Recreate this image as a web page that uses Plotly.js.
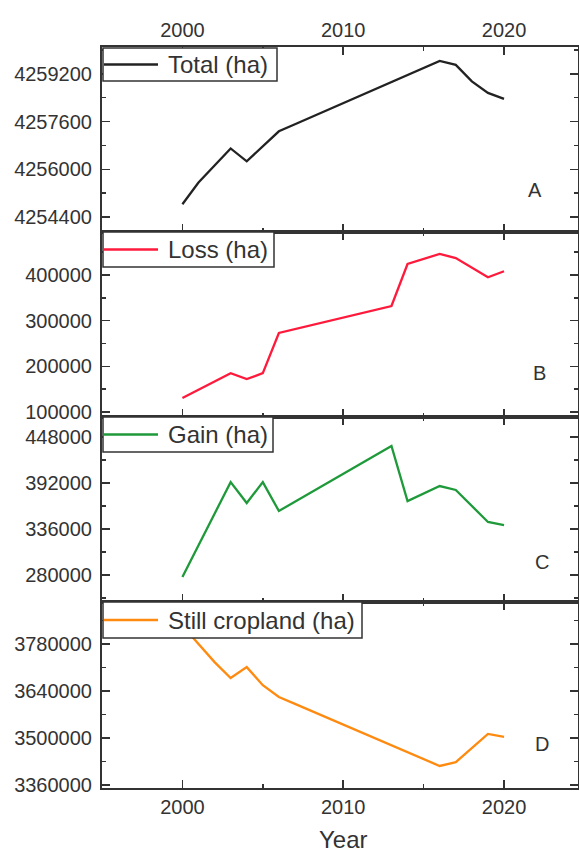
<!DOCTYPE html>
<html>
<head>
<meta charset="utf-8">
<script src="https://cdn.plot.ly/plotly-3.0.1.min.js"></script>
<style>html,body{margin:0;padding:0;background:#fff;}</style>
</head>
<body>
<div id="chart" style="width:579px;height:853px;"></div>
<script>
const years = [2000,2001,2002,2003,2004,2005,2006,2007,2008,2009,2010,2011,2012,2013,2014,2015,2016,2017,2018,2019,2020];
const totalHa = [4254830,4255560,4256130,4256700,4256270,4256770,4257275,4257510,4257745,4257980,4258215,4258450,4258685,4258920,4259155,4259390,4259636,4259500,4258950,4258560,4258360];
const lossHa = [130600,149000,167000,185000,172000,185000,273000,281400,289900,298300,306700,315100,323600,332000,424000,435000,446000,437000,416000,395000,408000];
const gainHa = [277600,316000,355000,393000,367600,393000,357900,369200,380500,391800,403100,414400,425700,437000,370000,379000,388300,383500,364000,344500,340800];
const stillHa = [3834000,3780000,3726000,3678700,3711000,3657000,3622000,3601500,3580900,3560400,3539800,3519300,3498800,3478200,3457700,3437100,3416600,3428000,3470000,3512000,3503000];
const seriesNames = ["Total (ha)","Loss (ha)","Gain (ha)","Still cropland (ha)"];
const panelLetters = ["A","B","C","D"];
const xTitle = "Year";

const W = 579, H = 853;
const L = 102, R = 578, T = 47, B = 788;
const px = x => (x - L) / (R - L);
const py = y => (B - y) / (B - T);

const colors = ["#222222","#ff1a3c","#1f9a3a","#ff8a10"];
const ink = "#333333";
const fnt = "Liberation Sans, Arial, sans-serif";

const traces = [
  {x: years, y: totalHa, xaxis:"x4", yaxis:"y4"},
  {x: years, y: lossHa,  xaxis:"x3", yaxis:"y3"},
  {x: years, y: gainHa,  xaxis:"x2", yaxis:"y2"},
  {x: years, y: stillHa, xaxis:"x",  yaxis:"y"}
].map((t,i)=>Object.assign(t,{type:"scatter",mode:"lines",name:seriesNames[i],line:{color:colors[i],width:2.3},showlegend:false}));

const xBase = {
  range:[1995,2024.6], tick0:2000, dtick:10, ticks:"inside", ticklen:8, tickwidth:1.5, tickcolor:ink,
  minor:{dtick:5, tick0:1995, ticks:"inside", ticklen:4, tickwidth:1.5, tickcolor:ink},
  showline:true, linecolor:ink, linewidth:2, mirror:"ticks", showgrid:false, zeroline:false,
  tickfont:{family:fnt,size:20,color:ink}
};
const yBase = {
  ticks:"inside", ticklen:8, tickwidth:1.5, tickcolor:ink, tickformat:"d",
  showline:true, linecolor:ink, linewidth:2, mirror:"ticks", showgrid:false, zeroline:false,
  tickfont:{family:fnt,size:20,color:ink}, ticklabelstandoff:4
};
const dom = [[py(788),py(602)],[py(602),py(417)],[py(417),py(232)],[py(232),py(47)]];

const layout = {
  width:W, height:H, margin:{l:L, r:W-R, t:T, b:H-B},
  paper_bgcolor:"#fff", plot_bgcolor:"#fff", showlegend:false,
  xaxis: Object.assign({}, xBase, {anchor:"y"}),
  xaxis2: Object.assign({}, xBase, {anchor:"y2", showticklabels:false}),
  xaxis3: Object.assign({}, xBase, {anchor:"y3", showticklabels:false}),
  xaxis4: Object.assign({}, xBase, {anchor:"y4", side:"top"}),
  yaxis: Object.assign({}, yBase, {domain:dom[0], range:[3351000,3905000], tick0:3360000, dtick:140000, minor:{dtick:70000, tick0:3360000, ticks:"inside", ticklen:4, tickwidth:1.5, tickcolor:ink}}),
  yaxis2: Object.assign({}, yBase, {domain:dom[1], range:[247100,472300], tick0:280000, dtick:56000, minor:{dtick:28000, tick0:280000, ticks:"inside", ticklen:4, tickwidth:1.5, tickcolor:ink}}),
  yaxis3: Object.assign({}, yBase, {domain:dom[2], range:[89000,494000], tick0:100000, dtick:100000, minor:{dtick:50000, tick0:100000, ticks:"inside", ticklen:4, tickwidth:1.5, tickcolor:ink}}),
  yaxis4: Object.assign({}, yBase, {domain:dom[3], range:[4253900,4260100], tick0:4254400, dtick:1600, minor:{dtick:800, tick0:4254400, ticks:"inside", ticklen:4, tickwidth:1.5, tickcolor:ink}}),
  shapes:[], annotations:[]
};

// x axis title
layout.annotations.push({xref:"paper", yref:"paper", x:px(343), y:py(839), xanchor:"center", yanchor:"middle",
  text:xTitle, showarrow:false, font:{family:fnt, size:24, color:ink}});

// legend boxes (top-left of each panel): [top, bottom, right] in px
const boxes = [[48,81,277],[232,267,274],[417,452,273],[602,638,362]];
boxes.forEach((b,i)=>{
  layout.shapes.push({type:"rect", xref:"paper", yref:"paper", x0:px(103), x1:px(b[2]), y0:py(b[1]), y1:py(b[0]),
    fillcolor:"#fff", line:{color:ink, width:1.5}, layer:"above"});
  const ym = py((b[0]+b[1])/2);
  layout.shapes.push({type:"line", xref:"paper", yref:"paper", x0:px(104), x1:px(158), y0:ym, y1:ym,
    line:{color:colors[i], width:2.3}, layer:"above"});
  layout.annotations.push({xref:"paper", yref:"paper", x:px(166), y:ym, xanchor:"left", yanchor:"middle",
    text:seriesNames[i], showarrow:false, font:{family:fnt, size:24, color:ink}});
});
// panel letters
const letterPos = [[535,190],[539,373],[542,562],[542,744]];
letterPos.forEach((p,i)=>{
  layout.annotations.push({xref:"paper", yref:"paper", x:px(p[0]), y:py(p[1]), xanchor:"center", yanchor:"middle",
    text:panelLetters[i], showarrow:false, font:{family:fnt, size:20, color:ink}});
});

Plotly.newPlot("chart", traces, layout, {staticPlot:true, displayModeBar:false});
</script>
</body>
</html>
